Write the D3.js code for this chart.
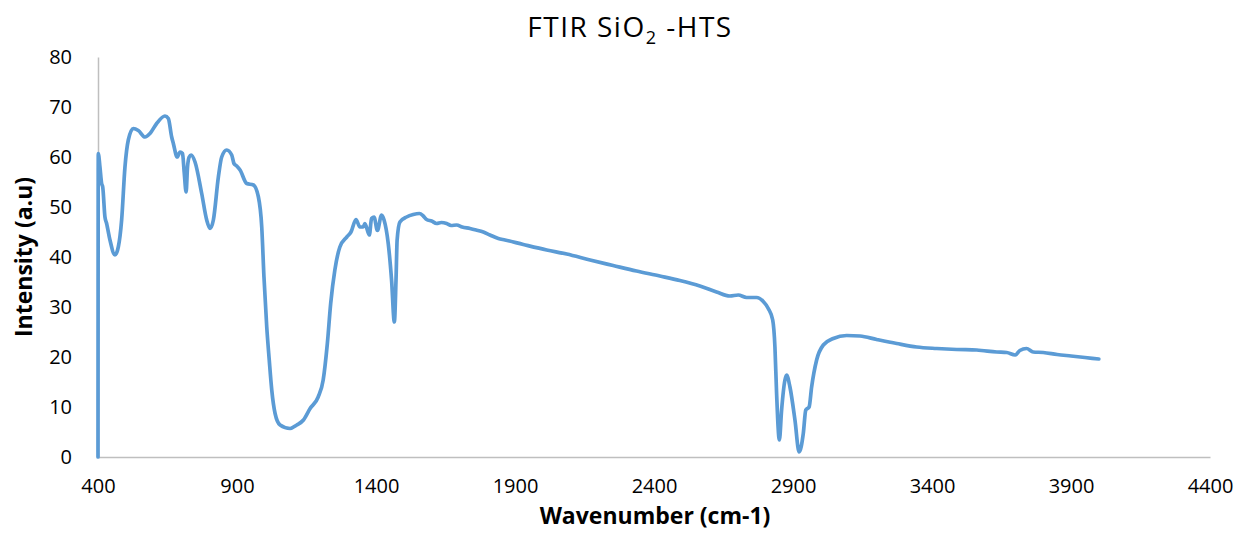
<!DOCTYPE html>
<html>
<head>
<meta charset="utf-8">
<script src="https://cdn.jsdelivr.net/npm/d3@7"></script>
<style>
  html, body { margin: 0; padding: 0; background: #fff; }
  svg { display: block; font-family: "Open Sans", "Liberation Sans", sans-serif; }
</style>
</head>
<body>
<svg id="chart" width="1239" height="533"></svg>
<script>
// FTIR spectrum of SiO2-HTS: wavenumber (cm-1) and intensity (a.u)
const wavenumber = [
  400, 401, 407, 413, 417, 425, 431, 443, 461, 473, 485, 497, 509, 527, 545, 569, 587, 611, 641, 653,
  665, 671, 685, 695, 704, 710, 717, 722, 728, 735, 749, 773, 791, 803, 815, 833, 845, 863, 881, 889,
  899, 911, 935, 959, 977, 989, 997, 1007, 1016, 1025, 1037, 1055, 1091, 1115, 1139, 1163, 1192, 1210,
  1225, 1237, 1252, 1270, 1295, 1310, 1328, 1342, 1354, 1360, 1376, 1384, 1393, 1405, 1420, 1429, 1444,
  1456, 1466, 1472, 1476, 1486, 1510, 1534, 1556, 1570, 1582, 1600, 1618, 1635, 1654, 1670, 1690, 1710,
  1738, 1760, 1786, 1810, 1840, 1864, 1930, 2014, 2086, 2170, 2253, 2337, 2421, 2493, 2565, 2625, 2673,
  2703, 2733, 2769, 2793, 2811, 2827, 2835, 2841, 2851, 2859, 2871, 2877, 2889, 2907, 2922, 2937, 2946,
  2958, 2967, 2985, 3009, 3045, 3093, 3141, 3201, 3273, 3345, 3417, 3489, 3561, 3633, 3669, 3699, 3716,
  3740, 3764, 3800, 3850, 3900, 3950, 4000
];
const intensity = [
  0, 60.7, 58, 54.7, 54, 48, 46.7, 43.4, 40.4, 42, 47.4, 58, 63.4, 65.7, 65.3, 64, 64.7, 66.7, 68.2, 67.7,
  64, 62.7, 60, 61, 60.7, 57, 53, 58, 60, 60.4, 59, 52.7, 47.4, 45.7, 47.4, 56, 60, 61.4, 60.4, 58.7,
  58.2, 57.4, 54.7, 54.4, 52, 46, 36, 26, 19.4, 13.4, 8.7, 6.4, 5.7, 6.4, 7.4, 9.7, 12, 15.4,
  22.7, 30.7, 37.4, 42, 44, 45, 47.5, 46, 46, 46.7, 44.4, 47.7, 48, 45.3, 48.4, 47.4, 42.7,
  35.4, 27, 35.4, 43.4, 47, 48, 48.5, 48.7, 48.2, 47.5, 47.2, 46.7, 46.9, 46.7, 46.3, 46.4, 46.0,
  45.7, 45.4, 45, 44.4, 43.7, 43.4, 42.5, 41.4, 40.6, 39.4, 38.3, 37.2, 36.2, 35.3, 34.2, 33, 32.2,
  32.4, 31.9, 31.9, 31.1, 29.7, 27.4, 22, 12.7, 3.4, 9.4, 15.4, 16.4, 14, 7.4, 1, 4.7, 9.4,
  10, 14, 19.4, 22.4, 23.7, 24.3, 24.2, 23.5, 22.7, 22, 21.7, 21.5, 21.4, 21, 20.9, 20.4, 21.3,
  21.7, 21, 20.9, 20.5, 20.2, 19.9, 19.6
];
const xTicks = [400, 900, 1400, 1900, 2400, 2900, 3400, 3900, 4400];
const yTicks = [0, 10, 20, 30, 40, 50, 60, 70, 80];

const svg = d3.select("#chart");
const plot = { left: 98, right: 1210, top: 57, bottom: 457 };

const x = d3.scaleLinear().domain([400, 4400]).range([plot.left, plot.right]);
const y = d3.scaleLinear().domain([0, 80]).range([plot.bottom, plot.top]);

// Axes: light grey lines, no tick marks
const xAxis = svg.append("g")
  .attr("transform", `translate(0,${plot.bottom})`)
  .call(d3.axisBottom(x).tickValues(xTicks).tickSize(0).tickPadding(22).tickFormat(d3.format("d")));
const yAxis = svg.append("g")
  .attr("transform", `translate(${plot.left},0)`)
  .call(d3.axisLeft(y).tickValues(yTicks).tickSize(0).tickPadding(26).tickFormat(d3.format("d")));

[xAxis, yAxis].forEach(g => {
  g.select(".domain").attr("stroke", "#bfbfbf").attr("stroke-width", 1.5);
  g.selectAll("text").attr("fill", "#000").style("font-size", "20px")
    .style("font-family", "'Open Sans', 'Liberation Sans', sans-serif");
});

// Spectrum trace
const line = d3.line()
  .x((d, i) => x(wavenumber[i]))
  .y((d, i) => y(intensity[i]))
  .curve(d3.curveMonotoneX);

svg.append("path")
  .datum(intensity)
  .attr("d", line)
  .attr("fill", "none")
  .attr("stroke", "#5b9bd5")
  .attr("stroke-width", 3.7)
  .attr("stroke-linejoin", "round")
  .attr("stroke-linecap", "round");

// Title with subscript
const title = svg.append("text")
  .attr("x", 630).attr("y", 37)
  .attr("text-anchor", "middle")
  .style("font-size", "28px")
  .style("letter-spacing", "1.5px")
  .attr("fill", "#000");
title.append("tspan").text("FTIR SiO");
title.append("tspan").attr("dy", 7).style("font-size", "18px").text("2");
title.append("tspan").attr("dy", -7).text(" -HTS");

// Axis titles
svg.append("text")
  .attr("x", 655).attr("y", 524)
  .attr("text-anchor", "middle")
  .style("font-size", "23px").style("font-weight", "bold")
  .attr("fill", "#000")
  .text("Wavenumber (cm-1)");

svg.append("text")
  .attr("transform", "translate(32,257) rotate(-90)")
  .attr("text-anchor", "middle")
  .style("font-size", "23px").style("font-weight", "bold")
  .attr("fill", "#000")
  .text("Intensity (a.u)");
</script>
</body>
</html>
